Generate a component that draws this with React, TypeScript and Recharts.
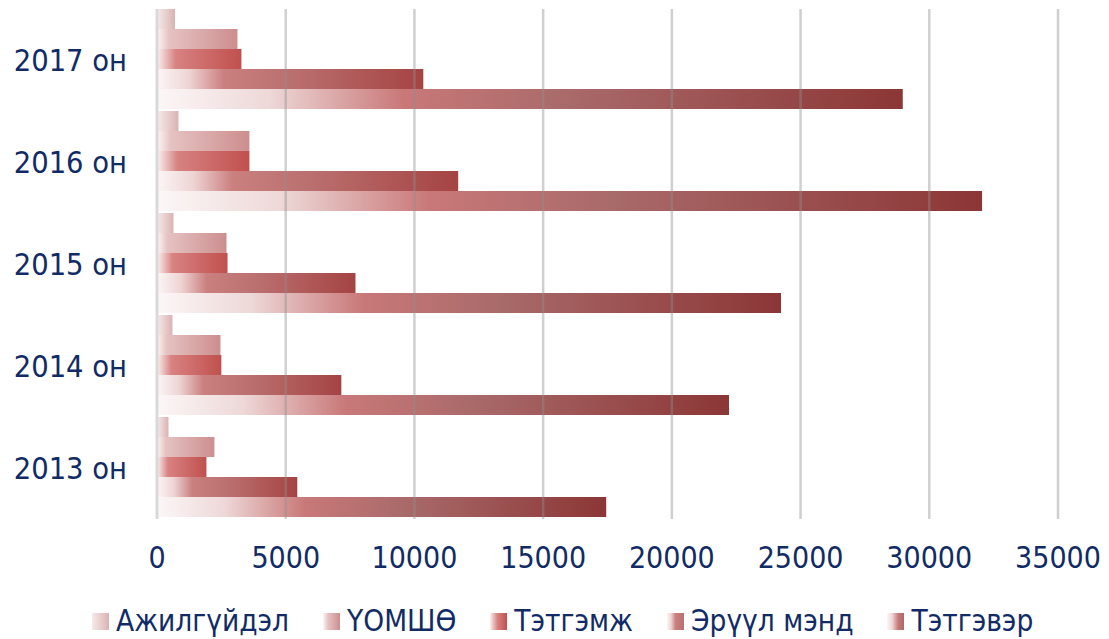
import React from 'react';
import { BarChart, Bar, XAxis, YAxis, ReferenceLine, Legend } from 'recharts';

const categories = ['2017 он', '2016 он', '2015 он', '2014 он', '2013 он'];
const ajilguidel = [700, 835, 640, 600, 446];
const uomsho = [3125, 3590, 2700, 2465, 2230];
const tetgemj = [3280, 3590, 2740, 2500, 1920];
const eruul = [10345, 11700, 7710, 7160, 5450];
const tetgever = [28970, 32050, 24240, 22220, 17450];
const xTicks = [0, 5000, 10000, 15000, 20000, 25000, 30000, 35000];

const seriesNames = ['Ажилгүйдэл', 'ҮОМШӨ', 'Тэтгэмж', 'Эрүүл мэнд', 'Тэтгэвэр'];
const seriesKeys = ['s0', 's1', 's2', 's3', 's4'];

const data = categories.map((c, i) => ({
  name: c,
  s0: ajilguidel[i],
  s1: uomsho[i],
  s2: tetgemj[i],
  s3: eruul[i],
  s4: tetgever[i],
}));

const gradients: { id: string; stops: [number, string][] }[] = [
  { id: 'g0', stops: [[0, '#f6eaea'], [1, '#dbb2b2']] },
  { id: 'g1', stops: [[0, '#fcf6f6'], [0.15, '#e6c2c2'], [1, '#cc8e8e']] },
  { id: 'g2', stops: [[0, '#fbf1f1'], [0.22, '#d88282'], [1, '#c0504d']] },
  { id: 'g3', stops: [[0, '#fcf6f6'], [0.12, '#eed4d4'], [0.25, '#cb8080'], [0.5, '#bb7070'], [1, '#a54343']] },
  { id: 'g4', stops: [[0, '#fcf7f7'], [0.15, '#eed8d8'], [0.33, '#c97878'], [0.55, '#a96a6a'], [1, '#8c3636']] },
];

const textColor = '#112b66';
const fontFamily = "'DejaVu Sans Condensed', 'DejaVu Sans', sans-serif";

const renderLegend = () => (
  <div
    style={{
      display: 'flex',
      justifyContent: 'flex-start',
      alignItems: 'center',
      fontFamily,
      fontStretch: 'condensed',
      fontSize: 29.5,
      lineHeight: '36px',
      color: textColor,
      gap: 34,
      paddingLeft: 92,
    }}
  >
    {seriesNames.map((n, i) => (
      <div key={n} style={{ display: 'flex', alignItems: 'center', gap: 7 }}>
        <svg width={17} height={17} style={{ display: 'block', flex: 'none' }}>
          <defs>
            <linearGradient id={'lg' + i} x1="0" y1="0" x2="1" y2="0">
              {gradients[i].stops.map(([o, c], k) => (
                <stop key={k} offset={i === 0 ? o : Math.min(1, o * 2)} stopColor={c} />
              ))}
            </linearGradient>
          </defs>
          <rect x={0} y={0} width={17} height={17} fill={`url(#lg${i})`} />
        </svg>
        <span>{n}</span>
      </div>
    ))}
  </div>
);

export default function App() {
  return (
    <div style={{ position: 'absolute', left: 0, top: 0, width: 1109, height: 639, background: '#fff' }}>
      <BarChart
        width={1109}
        height={639}
        data={data}
        layout="vertical"
        margin={{ top: 9, right: 51, left: 0, bottom: 0 }}
        barCategoryGap={0}
        barGap={0}
      >
        <defs>
          {gradients.map((g) => (
            <linearGradient key={g.id} id={g.id} x1="0" y1="0" x2="1" y2="0">
              {g.stops.map(([o, c], k) => (
                <stop key={k} offset={o} stopColor={c} />
              ))}
            </linearGradient>
          ))}
        </defs>
        <XAxis
          type="number"
          domain={[0, 35000]}
          ticks={xTicks}
          interval={0}
          axisLine={false}
          tickLine={false}
          tickMargin={22}
          height={84}
          tick={{ fill: textColor, fontSize: 30, fontFamily, fontStretch: 'condensed' }}
        />
        <YAxis
          type="category"
          dataKey="name"
          width={157}
          tickLine={false}
          axisLine={{ stroke: '#d9d9d9', strokeWidth: 3 }}
          tickMargin={24}
          tick={{ fill: textColor, fontSize: 30.5, fontFamily, fontStretch: 'condensed' }}
        />
        {seriesKeys.map((k, i) => (
          <Bar
            key={k}
            dataKey={k}
            name={seriesNames[i]}
            fill={`url(#${gradients[i].id})`}
            isAnimationActive={false}
          />
        ))}
        {xTicks.slice(1).map((t) => (
          <ReferenceLine key={t} x={t} stroke="#909090" strokeOpacity={0.42} strokeWidth={2.5} />
        ))}
        <Legend verticalAlign="bottom" height={36} content={renderLegend} />
      </BarChart>
    </div>
  );
}
